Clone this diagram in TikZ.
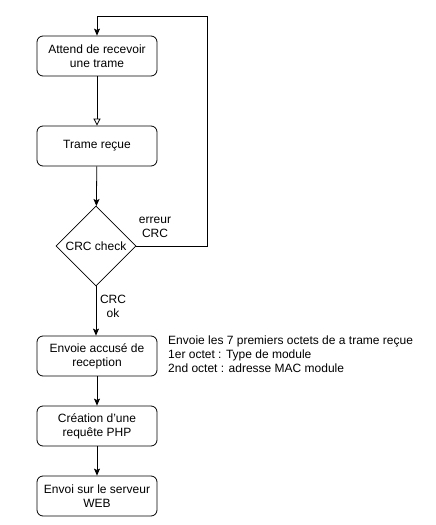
\documentclass[tikz,border=0pt]{standalone}
\usepackage{fontspec}
\setmainfont{Liberation Sans}
\usetikzlibrary{arrows.meta,shapes.geometric}
\begin{document}
\begin{tikzpicture}[x=1pt,y=-1pt,
  proc/.style={draw,rounded corners=6pt,minimum width=120pt,minimum height=40pt,align=center,font=\fontsize{12}{14}\selectfont,inner sep=0pt,line width=0.8pt},
  dec/.style={draw,diamond,minimum width=80pt,minimum height=80pt,aspect=1,inner sep=0pt,font=\fontsize{12}{14}\selectfont,line width=0.8pt},
  lbl/.style={align=center,font=\fontsize{12}{14}\selectfont,inner sep=0pt},
  conn/.style={line width=0.8pt,-{Stealth[length=7pt,width=6pt,inset=1.5pt]}},
  connopen/.style={line width=0.8pt,-{Triangle[open,length=7pt,width=7pt]}}]
\useasboundingbox (0,0) rectangle (436,525);
\node[proc] (b1) at (97,56) {Attend de recevoir\\une trame};
\node[proc] (b2) at (97,146) {Trame reçue};
\node[dec] (d) at (96,246) {CRC check};
\node[proc] (b3) at (97,356) {Envoie accusé de\\reception};
\node[proc] (b4) at (97,426) {Création d{\char"27}une\\requête PHP};
\node[proc] (b5) at (97,496) {Envoi sur le serveur\\WEB};
\coordinate (c1) at (207,246);
\coordinate (c2) at (207,16);
\coordinate (c3) at (97,16);
\draw[connopen] (b1) -- (b2);
\draw[conn] (b2) -- (d);
\draw[conn] (d.south) -- (b3.north -| d.south);
\draw[conn] (b3) -- (b4);
\draw[conn] (b4) -- (b5);
\draw[conn] (d.east) -- (c1) -- (c2) -- (c3) -- (b1.north);
\node[lbl] (e) at (155,227) {erreur\\CRC};
\node[lbl] (ok) at (113,306) {CRC\\ok};
\node[lbl,align=left,anchor=north west,font=\fontsize{12}{14}\selectfont] (note) at (168,336) {Envoie les 7 premiers octets de a trame reçue\\1er octet : Type de module\\2nd octet : adresse MAC module};
\end{tikzpicture}
\end{document}
